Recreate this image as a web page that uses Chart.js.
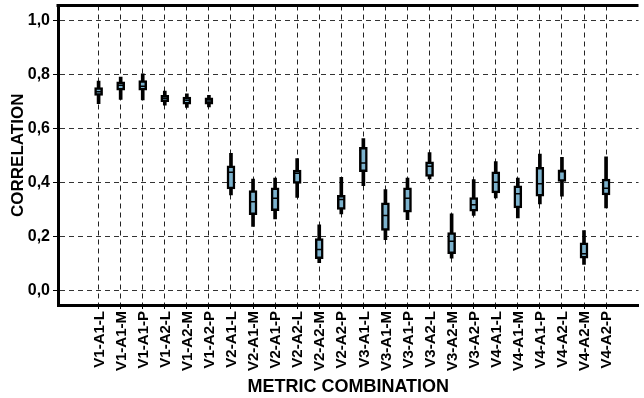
<!DOCTYPE html>
<html>
<head>
<meta charset="utf-8">
<script src="https://cdn.jsdelivr.net/npm/chart.js@4.4.1/dist/chart.umd.min.js"></script>
<style>
html, body { margin: 0; padding: 0; background: #fff; }
#wrap { width: 644px; height: 398px; }
</style>
</head>
<body>
<div id="wrap"><canvas id="grafico" width="644" height="398"></canvas></div>
<script>
// combinaciones de metricas (eje x)
const categorias = [
  "V1-A1-L", "V1-A1-M", "V1-A1-P", "V1-A2-L", "V1-A2-M", "V1-A2-P",
  "V2-A1-L", "V2-A1-M", "V2-A1-P", "V2-A2-L", "V2-A2-M", "V2-A2-P",
  "V3-A1-L", "V3-A1-M", "V3-A1-P", "V3-A2-L", "V3-A2-M", "V3-A2-P",
  "V4-A1-L", "V4-A1-M", "V4-A1-P", "V4-A2-L", "V4-A2-M", "V4-A2-P"
];

// valores
const bigoteMin = [0.691, 0.707, 0.705, 0.686, 0.677, 0.679, 0.353, 0.236, 0.264, 0.344, 0.102, 0.283,
                   0.387, 0.187, 0.261, 0.412, 0.119, 0.277, 0.342, 0.268, 0.320, 0.348, 0.095, 0.305];
const cuartil1  = [0.722, 0.741, 0.741, 0.699, 0.689, 0.689, 0.375, 0.280, 0.295, 0.396, 0.117, 0.299,
                   0.439, 0.221, 0.289, 0.422, 0.135, 0.293, 0.360, 0.305, 0.348, 0.403, 0.119, 0.353];
const mediana   = [0.735, 0.759, 0.756, 0.711, 0.704, 0.701, 0.437, 0.328, 0.341, 0.433, 0.151, 0.336,
                   0.471, 0.277, 0.341, 0.459, 0.181, 0.317, 0.400, 0.357, 0.394, 0.439, 0.135, 0.378];
const cuartil3  = [0.751, 0.772, 0.777, 0.722, 0.716, 0.713, 0.461, 0.369, 0.379, 0.445, 0.191, 0.351,
                   0.529, 0.324, 0.379, 0.476, 0.213, 0.343, 0.439, 0.387, 0.455, 0.446, 0.175, 0.412];
const bigoteMax = [0.775, 0.790, 0.802, 0.738, 0.728, 0.722, 0.507, 0.412, 0.415, 0.488, 0.242, 0.418,
                   0.562, 0.373, 0.415, 0.510, 0.283, 0.410, 0.477, 0.415, 0.504, 0.492, 0.221, 0.494];

const ticksY = [0, 0.2, 0.4, 0.6, 0.8, 1.0];

const fuente = "'Liberation Sans', Arial, Helvetica, sans-serif";

// linea superior del marco
const marcoSuperior = {
  id: "marcoSuperior",
  afterDraw(chart) {
    const { ctx, chartArea } = chart;
    ctx.save();
    ctx.strokeStyle = "#000";
    ctx.lineWidth = 3;
    ctx.beginPath();
    ctx.moveTo(chartArea.left - 1.5, chartArea.top);
    ctx.lineTo(chartArea.right, chartArea.top);
    ctx.stroke();
    ctx.restore();
  }
};

const ctx = document.getElementById("grafico").getContext("2d");

new Chart(ctx, {
  type: "bar",
  data: {
    datasets: [
      {
        type: "line",
        label: "mediana",
        data: mediana.map((v, i) => ({ x: i, y: v })),
        showLine: false,
        pointStyle: "line",
        pointRadius: 3,
        pointBorderWidth: 1.5,
        borderColor: "#000",
        order: 0
      },
      {
        label: "caja",
        data: cuartil1.map((v, i) => ({ x: i, y: [v, cuartil3[i]] })),
        backgroundColor: "#7cb2cd",
        borderColor: "#000",
        borderWidth: 2.5,
        borderSkipped: false,
        barThickness: 8,
        grouped: false,
        order: 1
      },
      {
        label: "bigote",
        data: bigoteMin.map((v, i) => ({ x: i, y: [v, bigoteMax[i]] })),
        backgroundColor: "#000",
        borderWidth: 0,
        barThickness: 3,
        grouped: false,
        order: 2
      }
    ]
  },
  options: {
    responsive: false,
    animation: false,
    devicePixelRatio: 1,
    layout: { padding: { top: 4, right: 0, bottom: 0, left: 0 } },
    plugins: {
      legend: { display: false },
      tooltip: { enabled: false }
    },
    scales: {
      x: {
        type: "linear",
        min: -1.84,
        max: 24.47,
        offset: false,
        afterBuildTicks: (scale) => {
          scale.ticks = categorias.map((c, i) => ({ value: i }));
        },
        afterFit: (scale) => {
          scale.height = 93;
          scale.paddingLeft = 0;
          scale.paddingRight = 0;
        },
        ticks: {
          autoSkip: false,
          minRotation: 90,
          maxRotation: 90,
          padding: 2,
          labelOffset: 1,
          color: "#000",
          font: { family: fuente, size: 15, weight: "bold" },
          callback: (v) => categorias[v]
        },
        grid: {
          offset: false,
          color: "#222",
          lineWidth: 1,
          tickBorderDash: [],
          tickColor: "#000",
          tickLength: 4
        },
        border: { display: true, color: "#000", width: 3, dash: [5, 4] },
        title: {
          display: true,
          text: "METRIC COMBINATION",
          color: "#000",
          font: { family: fuente, size: 18, weight: "bold" },
          padding: { top: 4, bottom: 0 }
        }
      },
      y: {
        min: -0.055,
        max: 1.055,
        afterBuildTicks: (scale) => {
          scale.ticks = ticksY.map(v => ({ value: v }));
        },
        afterFit: (scale) => {
          scale.width = 58;
          scale.paddingTop = 0;
          scale.paddingBottom = 0;
        },
        ticks: {
          padding: 3,
          color: "#000",
          font: { family: fuente, size: 16, weight: "bold" },
          callback: (v) => v.toFixed(1).replace(".", ",")
        },
        grid: {
          color: "#333",
          lineWidth: 1,
          tickBorderDash: [],
          tickColor: "#000",
          tickLength: 5
        },
        border: { display: true, color: "#000", width: 3, dash: [5, 4] },
        title: {
          display: true,
          text: "CORRELATION",
          color: "#000",
          font: { family: fuente, size: 17, weight: "bold" },
          padding: { top: 8, bottom: 0 }
        }
      }
    }
  },
  plugins: [marcoSuperior]
});
</script>
</body>
</html>
